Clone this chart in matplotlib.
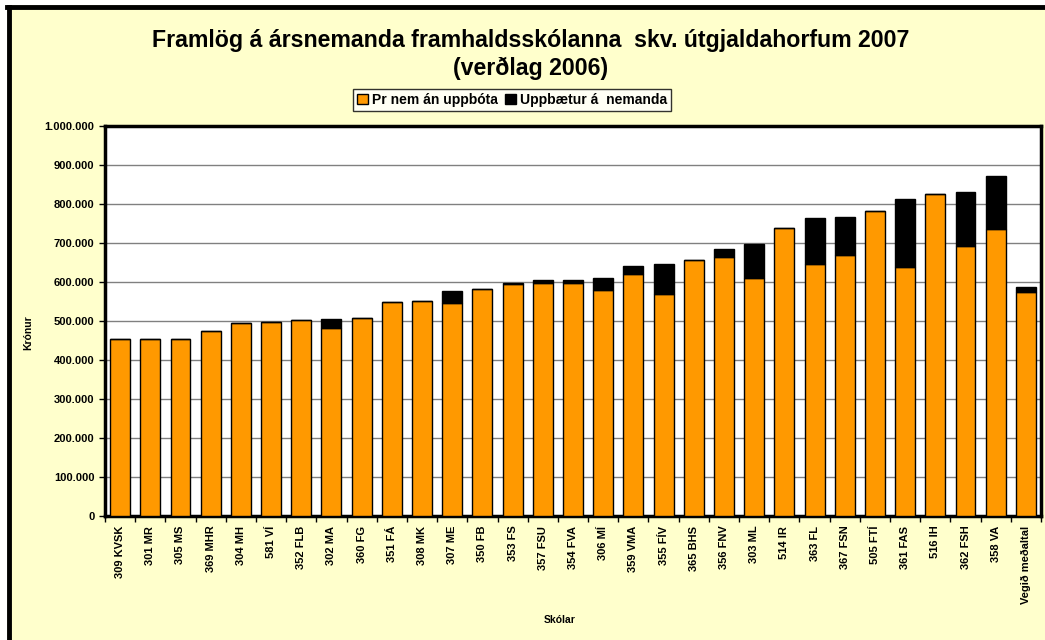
import matplotlib.pyplot as plt
import numpy as np
from matplotlib.patches import Rectangle
from matplotlib.lines import Line2D
from matplotlib.ticker import FuncFormatter, FixedLocator

plt.rcParams['font.family'] = ['Liberation Sans', 'DejaVu Sans']

schools = ["309 KVSK", "301 MR", "305 MS", "369 MHR", "304 MH", "581 VÍ", "352 FLB",
           "302 MA", "360 FG", "351 FÁ", "308 MK", "307 ME", "350 FB", "353 FS",
           "357 FSU", "354 FVA", "306 MÍ", "359 VMA", "355 FÍV", "365 BHS", "356 FNV",
           "303 ML", "514 IR", "363 FL", "367 FSN", "505 FTÍ", "361 FAS", "516 IH",
           "362 FSH", "358 VA", "Vegið meðaltal"]
# Pr nem án uppbóta
base = [455000, 455000, 453000, 474000, 496000, 497000, 503000,
        483000, 507000, 548000, 551000, 547000, 581000, 596000,
        597000, 597000, 579000, 620000, 568000, 657000, 665000,
        611000, 738000, 646000, 670000, 781000, 638000, 826000,
        693000, 735000, 574000]
# Uppbætur á nemanda
extra = [0, 0, 2000, 0, 0, 0, 0,
         23000, 0, 0, 0, 30000, 0, 2000,
         7000, 7000, 31000, 21000, 77000, 0, 20000,
         87000, 0, 119000, 96000, 0, 174000, 0,
         138000, 137000, 12000]

bg = "#FFFFCC"
orange = "#FF9900"

fig = plt.figure(figsize=(10.45, 6.4), dpi=100, facecolor="white")
# yellow chart area with black left/top border
fig.add_artist(Rectangle((7 / 1045, 0), 1, 635 / 640, transform=fig.transFigure,
                         facecolor=bg, edgecolor="none", zorder=-10))
fig.add_artist(Line2D([9 / 1045, 9 / 1045], [0, 633 / 640], transform=fig.transFigure,
                      color="black", lw=3.5, zorder=-9))
fig.add_artist(Line2D([7 / 1045, 1], [633 / 640, 633 / 640], transform=fig.transFigure,
                      color="black", lw=3.5, zorder=-9))

ax = fig.add_axes([105 / 1045, 124 / 640, 936 / 1045, 390 / 640])
ax.set_facecolor("white")

x = np.arange(len(schools))
ax.bar(x, base, width=0.66, color=orange, edgecolor="black", linewidth=1,
       label="Pr nem án uppbóta", zorder=3)
ax.bar(x, extra, width=0.66, bottom=base, color="black", edgecolor="black", linewidth=1,
       label="Uppbætur á  nemanda", zorder=3)

ax.set_xlim(-0.5, len(schools) - 0.5)
ax.set_ylim(0, 1000000)
ax.set_yticks(np.arange(0, 1000001, 100000))
ax.yaxis.set_major_formatter(FuncFormatter(lambda v, p: f"{int(v):,}".replace(",", ".")))
ax.grid(axis="y", color="#808080", lw=1, zorder=0)

ax.set_xticks(x)
ax.set_xticklabels(schools, rotation=90, fontsize=8, fontweight="bold")
ax.tick_params(axis="x", which="major", length=0, pad=7)
ax.xaxis.set_minor_locator(FixedLocator(np.arange(-0.5, len(schools), 1)))
ax.tick_params(axis="x", which="minor", length=4, width=1)
ax.tick_params(axis="y", labelsize=8, length=4, width=1)
for t in ax.get_yticklabels():
    t.set_fontweight("bold")

for s in ax.spines.values():
    s.set_linewidth(2.5)
    s.set_color("black")

ax.set_ylabel("Krónur", fontsize=7.5, fontweight="bold")
ax.yaxis.set_label_coords(-72 / 936, 0.47)
ax.set_xlabel("Skólar", fontsize=7.5, fontweight="bold")
ax.xaxis.set_label_coords(455 / 936, -99 / 390)

fig.text(531 / 1045, 1 - 40 / 640, "Framlög á ársnemanda framhaldsskólanna  skv. útgjaldahorfum 2007",
         ha="center", va="center", fontsize=16.7, fontweight="bold")
fig.text(531 / 1045, 1 - 68 / 640, "(verðlag 2006)",
         ha="center", va="center", fontsize=16.7, fontweight="bold")

leg = fig.legend(loc="center", bbox_to_anchor=(512 / 1045, 1 - 100 / 640), ncol=2,
                 prop={"weight": "bold", "size": 10}, frameon=True, fancybox=False,
                 handlelength=0.8, handleheight=0.8, handletextpad=0.3, columnspacing=0.5,
                 borderpad=0.3, borderaxespad=0)
leg.get_frame().set_edgecolor("black")
leg.get_frame().set_linewidth(1)
leg.get_frame().set_facecolor("white")

fig.savefig("out.png", dpi=100, facecolor=fig.get_facecolor())
